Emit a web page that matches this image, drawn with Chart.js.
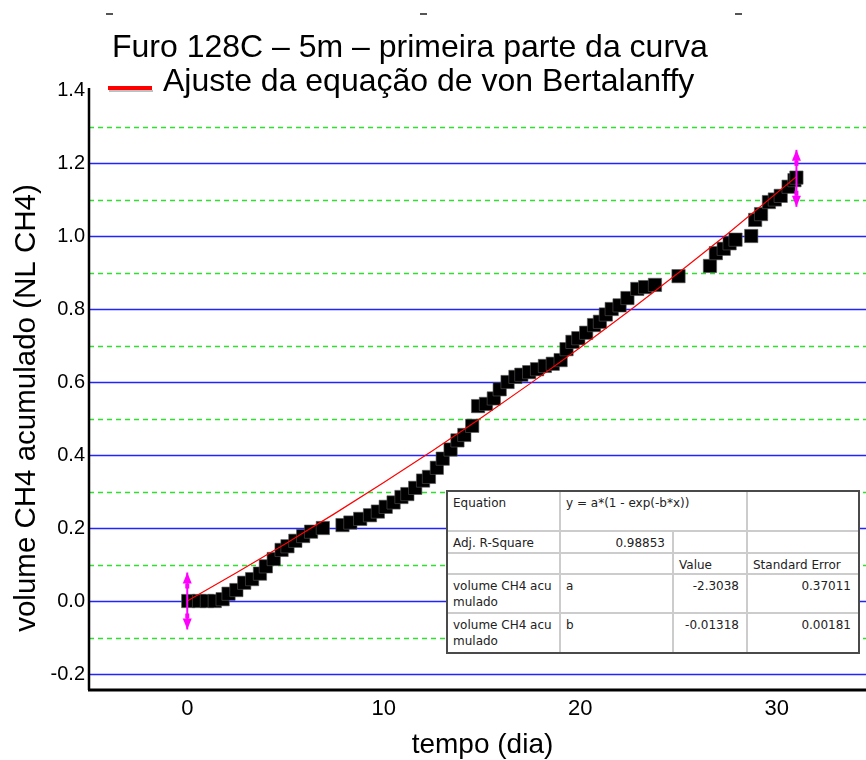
<!DOCTYPE html>
<html>
<head>
<meta charset="utf-8">
<title>Furo 128C – 5m</title>
<script src="https://cdn.jsdelivr.net/npm/chart.js@4.4.1/dist/chart.umd.min.js"></script>
<style>
  html, body { margin: 0; padding: 0; background: #fff; }
  #wrap { position: relative; width: 866px; height: 760px; overflow: hidden; }
  #chartFit { position: absolute; left: 0; top: 0; }
  #fitBox { position: absolute; left: 446px; top: 490px; border: 2px solid #4a4a4a; background: #fff; }
  #fitTable { border-collapse: collapse; border-style: hidden; table-layout: fixed;
    font: 12px "DejaVu Sans", sans-serif; color: #222; }
  #fitTable td { border: 2px solid #cccccc; padding: 3px 5px 0 5px; vertical-align: top;
    line-height: 16px; white-space: nowrap; overflow: hidden; }
  #fitTable td.num { text-align: right; padding-right: 7px; }
</style>
</head>
<body>
<div id="wrap">
  <canvas id="chartFit" width="866" height="760"></canvas>
  <div id="fitBox">
    <table id="fitTable">
      <colgroup><col style="width:112px"><col style="width:113px"><col style="width:74px"><col style="width:111px"></colgroup>
      <tr style="height:39px"><td>Equation</td><td colspan="2">y = a*(1 - exp(-b*x))</td><td></td></tr>
      <tr style="height:22px"><td>Adj. R-Square</td><td class="num">0.98853</td><td></td><td></td></tr>
      <tr style="height:20px"><td></td><td></td><td>Value</td><td>Standard Error</td></tr>
      <tr style="height:39px"><td>volume CH4 acu<br>mulado</td><td>a</td><td class="num">-2.3038</td><td class="num">0.37011</td></tr>
      <tr style="height:39px"><td>volume CH4 acu<br>mulado</td><td>b</td><td class="num">-0.01318</td><td class="num">0.00181</td></tr>
    </table>
  </div>
</div>
<script>
// ===== DATA =====

// measured cumulative CH4 volume (NL) per day
const dayValues = [
  0.05, 0.6, 1.0, 1.4, 1.8, 2.1, 2.5, 2.9, 3.3, 3.7, 4.0, 4.4, 4.8, 5.1, 5.5, 5.9, 6.3, 6.9,
  7.9, 8.3, 8.8, 9.3, 9.7, 10.1, 10.5, 10.9, 11.2, 11.6, 12.0, 12.3, 12.7, 13.0, 13.4, 13.75, 14.1, 14.5,
  14.8, 15.2, 15.6, 15.9, 16.3, 16.7, 17.0, 17.4, 17.8, 18.2, 18.6, 19.0, 19.3, 19.6, 19.9, 20.3, 20.7,
  21.0, 21.3, 21.6, 22.0, 22.4, 22.9, 23.3, 23.8,
  25.0, 26.6, 26.9, 27.3, 27.6, 27.9, 28.7, 28.9, 29.2, 29.6, 29.9, 30.2, 30.6, 30.9, 31.0
];
const volumeValues = [
  0.0, 0.0, 0.0, 0.0, 0.005, 0.02, 0.03, 0.05, 0.06, 0.075, 0.095, 0.115, 0.14, 0.15, 0.165, 0.178, 0.19, 0.2,
  0.208, 0.215, 0.225, 0.235, 0.245, 0.258, 0.27, 0.285, 0.293, 0.31, 0.33, 0.34, 0.365, 0.39, 0.415, 0.44, 0.455, 0.48,
  0.534, 0.54, 0.555, 0.58, 0.6, 0.614, 0.62, 0.627, 0.635, 0.644, 0.65, 0.66, 0.69, 0.71, 0.72, 0.735, 0.756,
  0.765, 0.785, 0.80, 0.81, 0.83, 0.855, 0.86, 0.866,
  0.89, 0.918, 0.953, 0.965, 0.98, 0.99, 1.0, 1.044, 1.06, 1.093, 1.10, 1.11, 1.135, 1.153, 1.16
];

// von Bertalanffy fit, a = -2.3038, b = -0.01318
const fitDays = [0, 2.5, 5, 7.5, 10, 12.5, 15, 17.5, 20, 22.5, 25, 27.5, 31];
const fitValues = [0, 0.0772, 0.1569, 0.2394, 0.3246, 0.4126, 0.5037, 0.5976, 0.6948, 0.7952, 0.8991, 1.0064, 1.1627];

// error bars at the two ends of the fitted range
const errDays = [0, 31];
const errCenters = [0, 1.158];
const errHalf = [0.078, 0.078];

const xTickValues = [0, 10, 20, 30];
const yTickValues = [-0.2, 0, 0.2, 0.4, 0.6, 0.8, 1.0, 1.2, 1.4];
const majorGrid = [-0.2, 0, 0.2, 0.4, 0.6, 0.8, 1.0, 1.2];
const minorGrid = [-0.1, 0.1, 0.3, 0.5, 0.7, 0.9, 1.1, 1.3];

const chartTitle = 'Furo 128C – 5m – primeira parte da curva';
const legendLabel = 'Ajuste da equação de von Bertalanffy';
const xAxisTitle = 'tempo (dia)';
const yAxisTitle = 'volume CH4 acumulado (NL CH4)';

const FONT = '"Liberation Sans", Arial, sans-serif';

// ===== DRAWING HELPERS =====

function arrowHead(ctx, x, tipY, dir) {
  // dir = -1 points up, +1 points down
  const h = 11;
  ctx.beginPath();
  ctx.moveTo(x, tipY);
  ctx.lineTo(x - 4.5, tipY - dir * h);
  ctx.lineTo(x + 4.5, tipY - dir * h);
  ctx.closePath();
  ctx.fill();
  const stemTop = dir < 0 ? tipY + h : tipY - h - 5;
  ctx.fillRect(x - 2, stemTop, 4, 5);
}

// no label overflow padding: the plot runs right up to the canvas edge
function noPadding(s) {
  s.paddingLeft = 0; s.paddingRight = 0; s.paddingTop = 0; s.paddingBottom = 0;
}

const overlay = {
  id: 'overlay',
  beforeDatasetsDraw(chart) {
    const { ctx, chartArea: a, scales: { y } } = chart;
    ctx.save();
    ctx.strokeStyle = '#2fe02f';
    ctx.lineWidth = 1.3;
    ctx.setLineDash([5, 4]);
    minorGrid.forEach(v => {
      const py = Math.round(y.getPixelForValue(v)) + 0.5;
      ctx.beginPath(); ctx.moveTo(a.left, py); ctx.lineTo(a.right, py); ctx.stroke();
    });
    ctx.setLineDash([]);
    ctx.strokeStyle = '#2323ff';
    ctx.lineWidth = 1.5;
    majorGrid.forEach(v => {
      const py = Math.round(y.getPixelForValue(v)) + 0.5;
      ctx.beginPath(); ctx.moveTo(a.left, py); ctx.lineTo(a.right, py); ctx.stroke();
    });
    ctx.restore();
  },
  afterDatasetsDraw(chart) {
    const { ctx, scales: { x, y } } = chart;
    ctx.save();
    ctx.strokeStyle = '#ff00ff';
    ctx.fillStyle = '#ff00ff';
    ctx.lineWidth = 2;
    errDays.forEach((d, i) => {
      const px = x.getPixelForValue(d);
      const top = y.getPixelForValue(errCenters[i] + errHalf[i]);
      const bot = y.getPixelForValue(errCenters[i] - errHalf[i]);
      ctx.beginPath(); ctx.moveTo(px, top); ctx.lineTo(px, bot); ctx.stroke();
      arrowHead(ctx, px, top, -1);
      arrowHead(ctx, px, bot, 1);
    });
    ctx.restore();
  },
  afterDraw(chart) {
    const { ctx, chartArea: a } = chart;
    ctx.save();

    // axes
    ctx.strokeStyle = '#000';
    ctx.lineWidth = 2.5;
    ctx.beginPath(); ctx.moveTo(a.left, a.top - 2); ctx.lineTo(a.left, a.bottom); ctx.stroke();
    ctx.lineWidth = 3;
    ctx.beginPath(); ctx.moveTo(a.left - 1, a.bottom); ctx.lineTo(a.right, a.bottom); ctx.stroke();

    // stray tick marks along the top edge
    ctx.fillStyle = '#555';
    [106, 420, 735].forEach(px => ctx.fillRect(px, 13, 7, 2));

    // title and legend
    ctx.fillStyle = '#000';
    ctx.textAlign = 'left';
    ctx.textBaseline = 'alphabetic';
    ctx.font = '32px ' + FONT;
    ctx.fillText(chartTitle, 112, 57);
    ctx.fillText(legendLabel, 163, 91);
    ctx.strokeStyle = 'rgba(0,0,0,0.25)';
    ctx.lineWidth = 2;
    ctx.beginPath(); ctx.moveTo(109, 91); ctx.lineTo(153, 91); ctx.stroke();
    ctx.strokeStyle = '#ff0000';
    ctx.lineWidth = 4;
    ctx.beginPath(); ctx.moveTo(108, 88); ctx.lineTo(152, 88); ctx.stroke();

    // axis titles
    ctx.font = '28px ' + FONT;
    ctx.textAlign = 'center';
    ctx.fillText(xAxisTitle, (a.left + a.right) / 2 + 5, 753);
    ctx.font = '29.5px ' + FONT;
    ctx.translate(27, 408);
    ctx.rotate(-Math.PI / 2);
    ctx.textBaseline = 'middle';
    ctx.fillText(yAxisTitle, 0, 0);
    ctx.restore();
  }
};

// ===== CHART =====

new Chart(document.getElementById('chartFit'), {
  type: 'scatter',
  data: {
    datasets: [
      {
        label: legendLabel,
        data: fitDays.map((d, i) => ({ x: d, y: fitValues[i] })),
        showLine: true, borderColor: '#ff0000', borderWidth: 1.2, pointRadius: 0, fill: false
      },
      {
        label: 'volume CH4 acumulado',
        data: dayValues.map((d, i) => ({ x: d, y: volumeValues[i] })),
        pointStyle: 'rect', pointRadius: 9.4, backgroundColor: '#000', borderColor: '#555', borderWidth: 0.6
      }
    ]
  },
  options: {
    responsive: false,
    animation: false,
    layout: { autoPadding: false, padding: { top: 90, left: 0, right: 0, bottom: 0 } },
    plugins: { legend: { display: false }, tooltip: { enabled: false } },
    scales: {
      x: {
        type: 'linear', min: -5, max: 34.54,
        afterFit: s => { s.height = 70; noPadding(s); },
        afterBuildTicks: s => { s.ticks = xTickValues.map(v => ({ value: v })); },
        grid: { display: false, drawTicks: false },
        border: { display: false },
        ticks: { color: '#000', padding: 6, font: { family: FONT, size: 22 } }
      },
      y: {
        type: 'linear', min: -0.2438, max: 1.4,
        afterFit: s => { s.width = 89; noPadding(s); },
        afterBuildTicks: s => { s.ticks = yTickValues.map(v => ({ value: v })); },
        grid: { display: false, drawTicks: false },
        border: { display: false },
        ticks: { color: '#000', padding: 4, font: { family: FONT, size: 20 }, callback: v => v.toFixed(1) }
      }
    }
  },
  plugins: [overlay]
});
</script>
</body>
</html>
